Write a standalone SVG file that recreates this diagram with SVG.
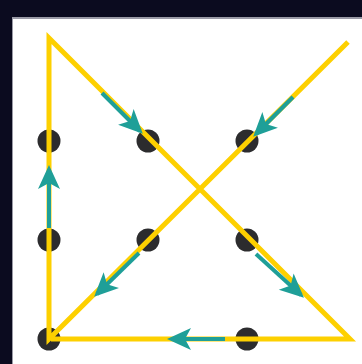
<svg xmlns="http://www.w3.org/2000/svg" width="362" height="364" viewBox="0 0 362 364">
<style>
.dot{fill:#2c2c2e}
.path{fill:none;stroke:#fdd000;stroke-width:5;stroke-linejoin:miter;stroke-miterlimit:10}
.arr{stroke:#1f9f98;stroke-width:4;fill:none;marker-end:url(#ah)}
</style>
<defs>
<marker id="ah" markerUnits="userSpaceOnUse" markerWidth="26" markerHeight="24" refX="20" refY="11" orient="auto" overflow="visible">
<path d="M0,0 L24,11 L0,22 L6,11 Z" fill="#1f9f98"/>
</marker>
</defs>
<rect x="0" y="0" width="362" height="364" fill="#0b0b1f"/>
<rect x="12" y="17" width="350" height="347" fill="#9a9aa6"/>
<rect x="13" y="19" width="349" height="345" fill="#ffffff"/>
<g id="dots">
<g id="d11"><circle class="dot" cx="49" cy="141" r="11.5"/></g>
<g id="d12"><circle class="dot" cx="148" cy="141" r="11.5"/></g>
<g id="d13"><circle class="dot" cx="247" cy="141" r="11.5"/></g>
<g id="d21"><circle class="dot" cx="49" cy="240" r="11.5"/></g>
<g id="d22"><circle class="dot" cx="148" cy="240" r="11.5"/></g>
<g id="d23"><circle class="dot" cx="247" cy="240" r="11.5"/></g>
<g id="d31"><circle class="dot" cx="49" cy="339" r="11.5"/></g>
<g id="d33"><circle class="dot" cx="247" cy="339" r="11.5"/></g>
</g>
<g id="connectors">
<path class="path" d="M348,42 L49,339 L49,38 L350,339 L51,339"/>
<line class="arr" x1="49" y1="228" x2="49" y2="169"/>
<line class="arr" x1="102" y1="93" x2="140" y2="131"/>
<line class="arr" x1="293" y1="97" x2="256" y2="134"/>
<line class="arr" x1="139" y1="253" x2="97" y2="294"/>
<line class="arr" x1="256" y1="254" x2="301" y2="295"/>
<line class="arr" x1="225" y1="339" x2="171" y2="339"/>
</g>
</svg>
